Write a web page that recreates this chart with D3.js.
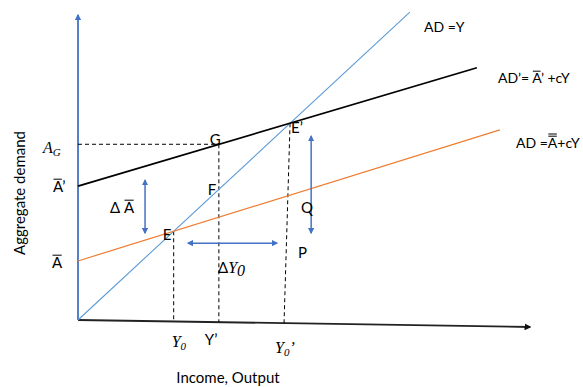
<!DOCTYPE html>
<html><head><meta charset="utf-8">
<script src="https://cdn.jsdelivr.net/npm/d3@7/dist/d3.min.js"></script>
<style>
html,body{margin:0;padding:0;background:#fff;}
text{font-family:Lato,"Open Sans",sans-serif;font-size:15px;fill:#000;}
text.r{font-size:14px;}
.m{font-family:"Liberation Serif","DejaVu Serif",serif;font-style:italic;font-size:16px;}
</style></head>
<body><svg id="c" width="583" height="387"></svg>
<script>
// ---- data (economic units) ----
const xAxisLine = [[0,0],[12,-0.2]];
const yAxisLine = [[0,0],[0,8.73]];
const line45 = [[0,0],[8.81,8.81]];          // AD = Y
const lineADprime = [[0,3.83],[10.59,7.22]]; // AD' = A' + cY
const lineAD = [[0,1.69],[11.2,5.44]];       // AD = A + cY
const ptE = [2.54,2.54], ptG = [3.74,5.03], ptF = [3.74,3.74], ptE2 = [5.63,5.63];
const dashLines = [
  [[0,5.03],[3.74,5.03]],
  [[2.54,2.54],[2.54,-0.04]],
  [[3.74,5.03],[3.74,-0.06]],
  [[5.63,5.63],[5.47,-0.09]]
];
const arrowsDouble = [
  [[1.78,4.0],[1.78,2.49]],
  [[2.92,2.2],[5.28,2.2]],
  [[6.19,5.26],[6.19,2.49]]
];

const svg = d3.select("#c");
const x = d3.scaleLinear().domain([0,12]).range([78,530]);
const y = d3.scaleLinear().domain([0,8.73]).range([320,15]);
const line = d3.line().x(d=>x(d[0])).y(d=>y(d[1]));

const defs = svg.append("defs");
function marker(id,color,w){
  defs.append("marker").attr("id",id).attr("viewBox","0 0 10 10").attr("refX",8).attr("refY",5)
    .attr("markerWidth",w).attr("markerHeight",w).attr("orient","auto-start-reverse")
    .append("path").attr("d","M0,0L10,5L0,10z").attr("fill",color);
}
marker("ab","#4472C4",4.2);
marker("ay","#4472C4",3.6);
marker("ak","#111",3.8);

// axes
svg.append("path").attr("d",line(yAxisLine)).attr("stroke","#4472C4").attr("stroke-width",1.8).attr("fill","none").attr("marker-end","url(#ay)");
svg.append("path").attr("d",line(xAxisLine)).attr("stroke","#222").attr("stroke-width",1.8).attr("fill","none").attr("marker-end","url(#ak)");

// dashed
dashLines.forEach(l=>svg.append("path").attr("d",line(l)).attr("stroke","#000").attr("stroke-width",1).attr("stroke-dasharray","4,3").attr("fill","none"));

// lines
svg.append("path").attr("d",line(line45)).attr("stroke","#5B9BD5").attr("stroke-width",1.1).attr("fill","none");
svg.append("path").attr("d",line(lineAD)).attr("stroke","#ED7D31").attr("stroke-width",1.2).attr("fill","none");
svg.append("path").attr("d",line(lineADprime)).attr("stroke","#000").attr("stroke-width",1.8).attr("fill","none");

// double arrows
arrowsDouble.forEach(l=>svg.append("path").attr("d",line(l)).attr("stroke","#4472C4").attr("stroke-width",1.5).attr("fill","none")
  .attr("marker-start","url(#ab)").attr("marker-end","url(#ab)"));

// labels
function t(px,py,s,cls){return svg.append("text").attr("x",px).attr("y",py).attr("class",cls||null).text(s);}
// overline on character index i (n bars)
function bar(sel,i,n){
  const node = sel.node();
  const b = node.getExtentOfChar(i);
  for(let k=0;k<n;k++){
    const yy = b.y + 2.2 - k*2.2;
    svg.append("line").attr("x1",b.x+0.5).attr("x2",b.x+b.width-0.5).attr("y1",yy).attr("y2",yy)
      .attr("stroke","#000").attr("stroke-width",1);
  }
}
t(424,32,"AD =Y","r");
bar(t(498,83,"AD’= A’ +cY","r"),5,1);
bar(t(516,148,"AD =A+cY","r"),4,2);
t(x(ptG[0])-9, y(ptG[1])+1, "G");
t(x(ptE2[0])+1, y(ptE2[1])+10, "E’");
t(x(ptF[0])-11, y(ptF[1])+6, "F");
t(x(ptE[0])-11, y(ptE[1])+9, "E");
t(301,213,"Q");
t(298,258,"P");
bar(t(110,213,"Δ A"),2,1);
bar(t(53,192,"A’"),0,1);
bar(t(52,268,"A"),0,1);
// A_G
const ag = svg.append("text").attr("x",43).attr("y",153).attr("class","m");
ag.append("tspan").text("A");
ag.append("tspan").attr("font-size","11px").attr("dy",3).text("G");
// ΔY0
const dy0 = svg.append("text").attr("x",218).attr("y",273);
dy0.append("tspan").text("Δ");
dy0.append("tspan").attr("class","m").text("Y");
dy0.append("tspan").attr("class","m").attr("font-size","11px").attr("dy",3).text("0");
// x labels
const y0 = svg.append("text").attr("x",x(ptE[0])-2).attr("y",347).attr("class","m");
y0.append("tspan").text("Y");
y0.append("tspan").attr("font-size","11px").attr("dy",3).text("0");
t(x(ptF[0])-14,345,"Y’");
const y0p = svg.append("text").attr("x",275).attr("y",353).attr("class","m");
y0p.append("tspan").text("Y");
y0p.append("tspan").attr("font-size","11px").attr("dy",3).text("0");
y0p.append("tspan").attr("dy",-3).text("’");
svg.append("text").attr("x",228).attr("y",383).attr("text-anchor","middle").text("Income, Output");
svg.append("text").attr("transform","translate(25,193) rotate(-90)").attr("text-anchor","middle").text("Aggregate demand");
</script></body></html>
